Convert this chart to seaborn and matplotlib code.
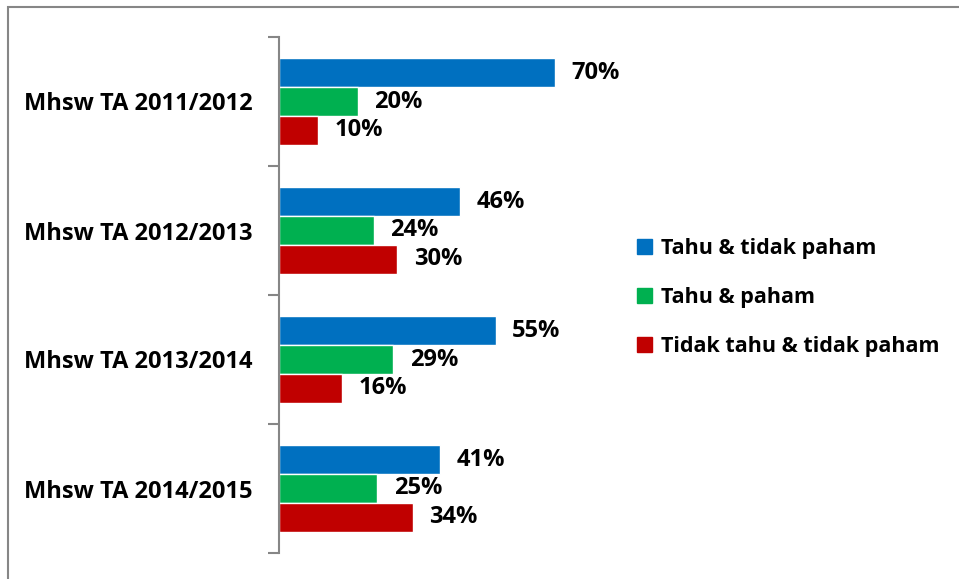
import matplotlib
matplotlib.use("Agg")
import matplotlib.pyplot as plt
import matplotlib.patches as mpatches
import numpy as np
import pandas as pd
import seaborn as sns

categories = ["Mhsw TA 2011/2012", "Mhsw TA 2012/2013", "Mhsw TA 2013/2014", "Mhsw TA 2014/2015"]
series = ["Tahu & tidak paham", "Tahu & paham", "Tidak tahu & tidak paham"]
tahu_tidak_paham = [0.70, 0.46, 0.55, 0.41]
tahu_paham = [0.20, 0.24, 0.29, 0.25]
tidak_tahu = [0.10, 0.30, 0.16, 0.34]
colors = ["#0070C0", "#00B050", "#C00000"]

df = pd.DataFrame({
    "kategori": categories * 3,
    "seri": [s for s in series for _ in categories],
    "nilai": tahu_tidak_paham + tahu_paham + tidak_tahu,
})

sns.set_theme(style="white")
plt.rcParams["font.family"] = ["Open Sans", "DejaVu Sans"]
plt.rcParams["font.weight"] = "bold"
FS = 17

fig = plt.figure(figsize=(9.59, 5.79), dpi=100)
ax = fig.add_axes([279 / 959, 26 / 579, 315 / 959, 516 / 579])

sns.barplot(data=df, y="kategori", x="nilai", hue="seri", orient="h",
            palette=colors, width=0.674, saturation=1, ax=ax, legend=False)

for cont in ax.containers:
    labels = [f"{v * 100:.0f}%" for v in cont.datavalues]
    ax.bar_label(cont, labels=labels, padding=12, fontsize=FS, fontweight="bold", color="black")

ax.set_xlim(0, 0.8)
ax.set_ylim(3.5, -0.5)
ax.set_xlabel("")
ax.set_ylabel("")
ax.set_xticks([])
for s in ["top", "right", "bottom"]:
    ax.spines[s].set_visible(False)
ax.spines["left"].set_color("#868686")
ax.spines["left"].set_linewidth(1.5)
ax.set_yticks(np.arange(len(categories)))
ax.set_yticklabels(categories, fontsize=FS, fontweight="bold")
ax.set_yticks(np.arange(-0.5, len(categories)), minor=True)
ax.tick_params(axis="y", which="major", length=0, pad=19, labelcolor="black")
ax.tick_params(axis="y", which="minor", left=True, length=8, width=1.5, color="#868686")

handles = [mpatches.Patch(color=c, label=s) for c, s in zip(colors, series)]
fig.legend(handles=handles, loc="upper left", bbox_to_anchor=(618 / 959, 1 - 219 / 579),
           frameon=False, handlelength=0.68, handleheight=0.68, labelcolor="black",
           handletextpad=0.4, labelspacing=1.3, prop={"weight": "bold", "size": 15.5})

fig.patches.append(mpatches.Rectangle((8 / 959, -0.05), 1.1, 1 - 7 / 579 + 0.05,
                                      transform=fig.transFigure, fill=False,
                                      edgecolor="#868686", linewidth=1.5))

fig.savefig("out.png", dpi=100, facecolor="white")
